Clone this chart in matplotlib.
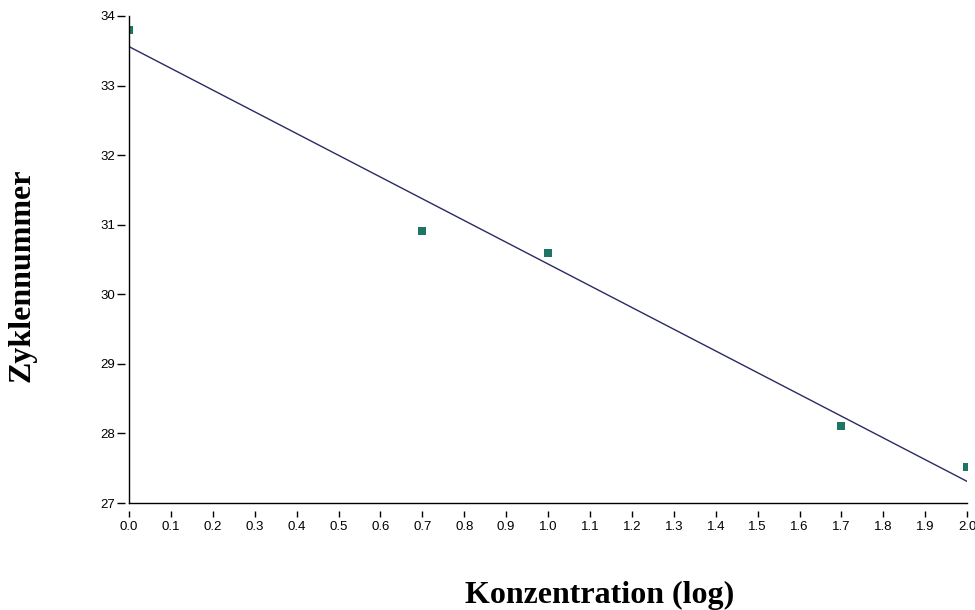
"""Standard curve: cycle number vs. log concentration."""

import matplotlib

matplotlib.use("Agg")
import matplotlib.pyplot as plt

# measured points
konz_log = [0.0, 0.7, 1.0, 1.7, 2.0]
zyklen = [33.80, 30.91, 30.60, 28.11, 27.52]

# regression line as drawn (end points)
fit_x = [0.0, 2.0]
fit_y = [33.56, 27.31]

x_ticks = [round(0.1 * i, 1) for i in range(21)]
y_ticks = [27, 28, 29, 30, 31, 32, 33, 34]


def main() -> None:
    fig = plt.figure(figsize=(9.75, 6.1), dpi=100, facecolor="white")
    ax = fig.add_axes([0.1323, 0.1754, 0.8597, 0.7984])

    ax.plot(fit_x, fit_y, color="#2a2a66", linewidth=1.0, zorder=2)
    ax.scatter(konz_log, zyklen, marker="s", s=30, color="#1e7565",
               linewidths=0, zorder=3)

    ax.set_xlim(0.0, 2.0)
    ax.set_ylim(27, 34)
    ax.set_xticks(x_ticks)
    ax.set_xticklabels([f"{t:.1f}" for t in x_ticks])
    ax.set_yticks(y_ticks)

    # axis lines drawn by hand, ticks sit a little away from them
    ax.axvline(0.0, color="black", linewidth=1.0, clip_on=False, zorder=4)
    ax.axhline(27.0, color="black", linewidth=1.0, clip_on=False, zorder=4)
    ax.spines["bottom"].set_position(("outward", 6))
    ax.spines["left"].set_position(("outward", 3))
    for spine in ax.spines.values():
        spine.set_visible(False)

    ax.tick_params(axis="both", direction="out", width=1,
                   labelsize=9.5, labelfontfamily="Liberation Sans",
                   colors="black")
    ax.tick_params(axis="x", length=4, pad=3)
    ax.tick_params(axis="y", length=6, pad=1)

    fig.text(0.023, 0.549, "Zyklennummer", rotation=90, ha="center",
             va="center", fontsize=23, fontweight="bold",
             family="Liberation Serif")
    fig.text(0.615, 1 - 603 / 610, "Konzentration (log)", ha="center",
             va="baseline", fontsize=23, fontweight="bold",
             family="Liberation Serif")

    fig.savefig("out.png", dpi=100, facecolor="white")
    plt.close(fig)


if __name__ == "__main__":
    main()
